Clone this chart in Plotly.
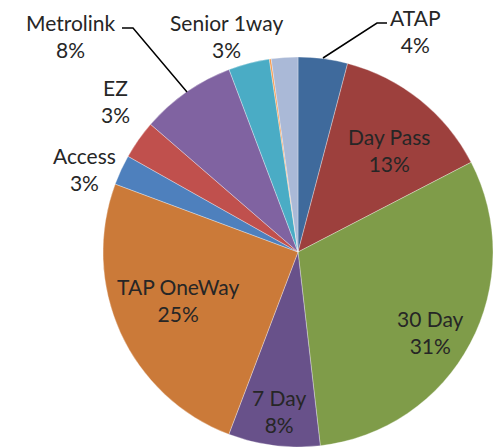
import plotly.graph_objects as go

# 数据
labels = ["ATAP", "Day Pass", "30 Day", "7 Day", "TAP OneWay", "Access",
          "EZ", "Metrolink", "Senior 1way", "Other", "Other 2"]
values = [4.1, 13.3, 30.8, 7.6, 24.9, 2.5, 3.2, 7.9, 3.4, 0.15, 2.2]
pct_text = ["4%", "13%", "31%", "8%", "25%", "3%", "3%", "8%", "3%", "", ""]
colors = ["#3F6A9C", "#9D403D", "#7F9C49", "#68518A", "#CB7A39", "#4E80BD",
          "#C0504D", "#8063A1", "#4AACC5", "#F79646", "#AAB9D7"]

W, H = 495, 447

# 标签位置 (像素, 文本中心)
label_pos = {
    "ATAP": (415, 31), "Day Pass": (389, 150), "30 Day": (430, 332),
    "7 Day": (279, 411), "TAP OneWay": (178, 300), "Access": (84, 169),
    "EZ": (115, 101), "Metrolink": (71, 36), "Senior 1way": (226, 36),
}


def to_paper(x, y):
    return x / W, 1 - y / H


cx, cy, r = 298, 252, 195

fig = go.Figure()
fig.add_trace(go.Pie(
    labels=labels,
    values=values,
    sort=False,
    direction="clockwise",
    rotation=0,
    textinfo="none",
    hoverinfo="label+percent",
    marker=dict(colors=colors, line=dict(color="rgba(255,255,255,0.45)", width=0.7)),
    domain=dict(x=[(cx - r) / W, (cx + r) / W], y=[1 - (cy + r) / H, 1 - (cy - r) / H]),
    showlegend=False,
))

for name, txt in zip(labels, pct_text):
    if name not in label_pos:
        continue
    x, y = to_paper(*label_pos[name])
    fig.add_annotation(
        x=x, y=y, xref="paper", yref="paper",
        text=f"{name}<br>{txt}", showarrow=False,
        xanchor="center", yanchor="middle", align="center",
        font=dict(family="Lato", size=21, color="#262626"),
    )


# 引导线
def leader(points):
    path = "M " + " L ".join("%f,%f" % to_paper(x, y) for x, y in points)
    fig.add_shape(type="path", path=path, xref="paper", yref="paper",
                  line=dict(color="black", width=1.5))


leader([(323, 58), (377, 23), (387, 23)])
leader([(187, 92), (133, 28), (122, 28)])

fig.update_layout(
    width=W, height=H,
    margin=dict(l=0, r=0, t=0, b=0),
    paper_bgcolor="white",
    plot_bgcolor="white",
)

fig.write_html("out.html", config={"displayModeBar": False},
               post_script="document.body.style.margin='0px';")
